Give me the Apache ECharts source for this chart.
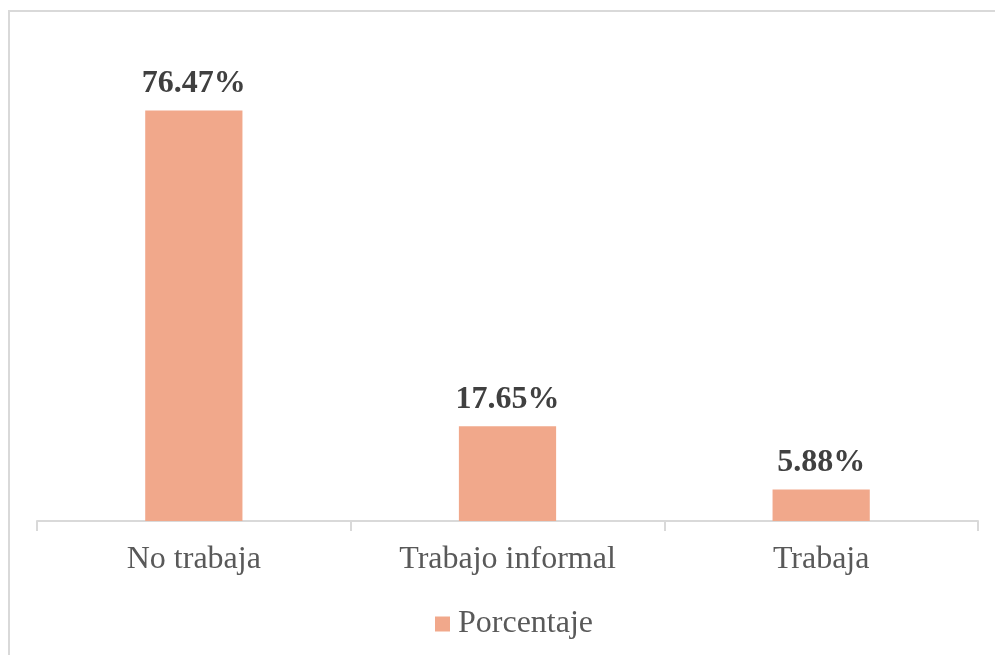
<!DOCTYPE html>
<html lang="es">
<head>
    <meta charset="UTF-8">
    <title>Porcentaje</title>
    <script src="https://cdn.jsdelivr.net/npm/echarts@6/dist/echarts.min.js"></script>
    <style>
        body { margin: 0; overflow: hidden; background: #fff; }
        #frame { position: absolute; left: 8px; top: 10px; width: 1100px; height: 800px;
                 border-left: 2px solid #d9d9d9; border-top: 2px solid #d9d9d9; }
        #main { position: absolute; left: 0; top: 0; width: 995px; height: 655px; }
    </style>
</head>
<body>
<div id="frame"></div>
<div id="main"></div>

<script type="text/javascript">
    // datos del grafico
    var categorias = ['No trabaja', 'Trabajo informal', 'Trabaja'];
    var porcentaje = [76.47, 17.65, 5.88];
    var serieNombre = 'Porcentaje';

    var fuente = '"Liberation Serif", "Times New Roman", serif';

    var myChart = echarts.init(document.getElementById('main'));

    var option = {
        animation: false,
        textStyle: { fontFamily: fuente },
        grid: { left: 37, right: 17, top: 38, bottom: 134 },
        legend: {
            data: [serieNombre],
            left: 430,
            top: 603,
            itemWidth: 15,
            itemHeight: 15,
            itemGap: 8,
            icon: 'rect',
            textStyle: { fontFamily: fuente, fontSize: 32, color: '#595959', padding: [0, 0, 0, 3] }
        },
        xAxis: {
            type: 'category',
            data: categorias,
            axisLine: { lineStyle: { color: '#d9d9d9', width: 2 } },
            axisTick: { show: true, length: 10, lineStyle: { color: '#d9d9d9', width: 2 } },
            axisLabel: { margin: 23, fontFamily: fuente, fontSize: 32, color: '#595959' }
        },
        yAxis: {
            type: 'value',
            min: 0,
            max: 90,
            show: false,
            splitLine: { show: false }
        },
        series: [
            {
                name: serieNombre,
                type: 'bar',
                data: porcentaje,
                barWidth: '31%',
                itemStyle: { color: '#F1A88B' },
                label: {
                    show: true,
                    position: 'top',
                    distance: 11,
                    fontFamily: fuente,
                    fontSize: 32,
                    fontWeight: 'bold',
                    color: '#404040',
                    formatter: function (p) { return p.value.toFixed(2) + '%'; }
                }
            }
        ]
    };

    myChart.setOption(option);
</script>
</body>
</html>
